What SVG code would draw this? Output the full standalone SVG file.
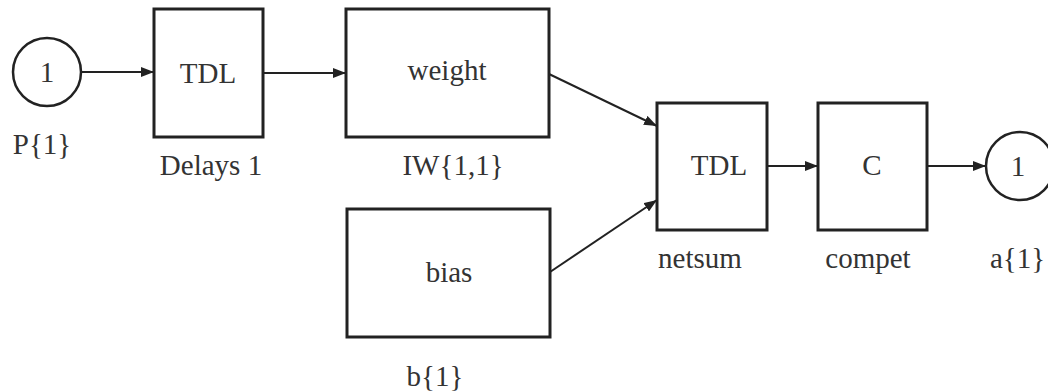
<svg xmlns="http://www.w3.org/2000/svg" width="1048" height="391" viewBox="0 0 1048 391">
<style>
.box{fill:#fff;stroke:#222;stroke-width:3}
.circ{fill:#fff;stroke:#222;stroke-width:2.5}
.t{font-size:29px;fill:#333;text-anchor:middle}
.conn{stroke:#222;stroke-width:2;fill:none;marker-end:url(#arr)}
</style>
<defs>
<marker id="arr" markerWidth="14" markerHeight="10" refX="13" refY="5" orient="auto" markerUnits="userSpaceOnUse">
<path d="M0,0 L13,5 L0,10 Z" fill="#222"/>
</marker>
</defs>
<rect width="1048" height="391" fill="#fff"/>
<g id="connectors">
<line class="conn" x1="81" y1="72" x2="154" y2="72"/>
<line class="conn" x1="263" y1="73" x2="346" y2="73"/>
<line class="conn" x1="549" y1="74" x2="657" y2="126"/>
<line class="conn" x1="550" y1="272" x2="657" y2="200"/>
<line class="conn" x1="767" y1="166" x2="818" y2="166"/>
<line class="conn" x1="927" y1="166" x2="986" y2="166"/>
</g>
<g font-family="Liberation Serif, Times New Roman, DejaVu Serif, serif">
<g id="p1">
<circle class="circ" cx="47" cy="72" r="34"/>
<text class="t" x="47" y="82">1</text>
<text class="t" x="42" y="154">P{1}</text>
</g>
<g id="delays1">
<rect class="box" x="154" y="9" width="109" height="128"/>
<text class="t" x="208" y="83">TDL</text>
<text class="t" x="211" y="175">Delays 1</text>
</g>
<g id="iw11">
<rect class="box" x="346" y="9" width="203" height="128"/>
<text class="t" x="447" y="80">weight</text>
<text class="t" x="453" y="175">IW{1,1}</text>
</g>
<g id="b1">
<rect class="box" x="347" y="209" width="203" height="128"/>
<text class="t" x="449" y="282">bias</text>
<text class="t" x="435" y="386">b{1}</text>
</g>
<g id="netsum">
<rect class="box" x="657" y="103" width="110" height="127"/>
<text class="t" x="719" y="175">TDL</text>
<text class="t" x="700" y="268">netsum</text>
</g>
<g id="compet">
<rect class="box" x="818" y="103" width="109" height="127"/>
<text class="t" x="872" y="175">C</text>
<text class="t" x="868" y="268">compet</text>
</g>
<g id="a1">
<circle class="circ" cx="1020" cy="166" r="34"/>
<text class="t" x="1018" y="176">1</text>
<text class="t" x="990" y="268" style="text-anchor:start">a{1}</text>
</g>
</g>
</svg>
